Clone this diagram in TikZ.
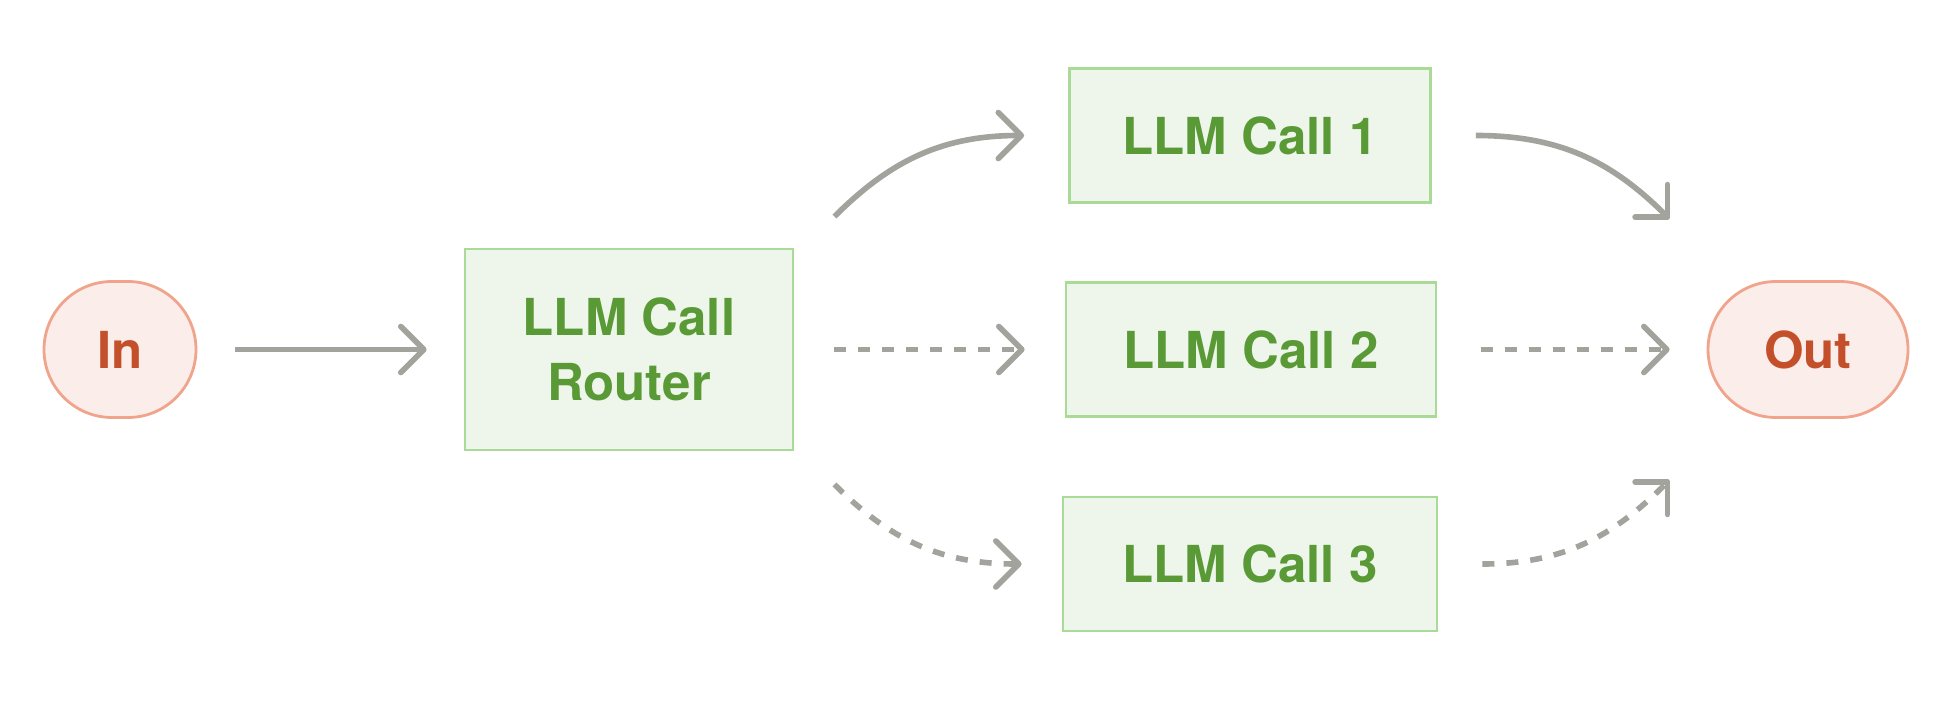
\documentclass[tikz,border=0pt]{standalone}
\usepackage{fontspec}
\setmainfont{TeX Gyre Heros}
\usetikzlibrary{arrows.meta}
\definecolor{callgreen}{HTML}{5A9A36}
\definecolor{boxline}{HTML}{A9DA98}
\definecolor{boxfill}{HTML}{EEF5EA}
\definecolor{pilltext}{HTML}{C4502B}
\definecolor{pillline}{HTML}{F0A48C}
\definecolor{pillfill}{HTML}{FBEDE9}
\definecolor{arrowgray}{HTML}{A3A39E}

\begin{document}
\begin{tikzpicture}
	\tikzset{call box/.style={draw=boxline,fill=boxfill,line width=0.8pt,minimum width=3.7cm,minimum height=1.34cm,align=center,text=callgreen,font=\fontsize{14.5}{18.5}\selectfont\bfseries},
		end pill/.style={draw=pillline,fill=pillfill,line width=0.8pt,rounded corners=0.68cm,minimum height=1.36cm,text=pilltext,font=\fontsize{14.5}{18.5}\selectfont\bfseries},
		flow/.style={draw=arrowgray,line width=1.6pt,-{Straight Barb[length=2.3mm,width=4.6mm,round]}},
		maybe flow/.style={flow,dash pattern=on 1.2mm off 1.2mm}}
	\useasboundingbox (0,0) rectangle (19.55,7.04);
	
	\node [end pill,minimum width=1.52cm] (in) at (1.20,3.545) {In};
	\node [call box,minimum width=3.28cm,minimum height=2.01cm] (router) at (6.29,3.545) {LLM Call\\Router};
	\node [call box,minimum width=3.61cm] (call1) at (12.50,5.685) {LLM Call 1};
	\node [call box] (call2) at (12.51,3.545) {LLM Call 2};
	\node [call box,minimum width=3.74cm] (call3) at (12.50,1.40) {LLM Call 3};
	\node [end pill,minimum width=2.0cm] (out) at (18.08,3.545) {Out};
	
	\draw [flow,shorten <=3.8mm,shorten >=3.7mm] (in) -- (router);
	\draw [flow] ([shift={(0.4,0.31)}]router.north east) to[out=45,in=180] ([xshift=-4.4mm]call1.west);
	\draw [maybe flow,shorten <=4mm,shorten >=4mm] (router) -- (call2);
	\draw [maybe flow] ([shift={(0.4,-0.33)}]router.south east) to[out=-45,in=180] ([xshift=-4mm]call3.west);
	\draw [flow] ([xshift=4.4mm]call1.east) to[out=0,in=135] ([shift={(-0.37,0.61)}]out.north west);
	\draw [maybe flow,shorten <=4.4mm,shorten >=3.7mm] (call2) -- (out);
	\draw [maybe flow] ([xshift=4.4mm]call3.east) to[out=0,in=-135] ([shift={(-0.37,-0.61)}]out.south west);
\end{tikzpicture}
\end{document}
